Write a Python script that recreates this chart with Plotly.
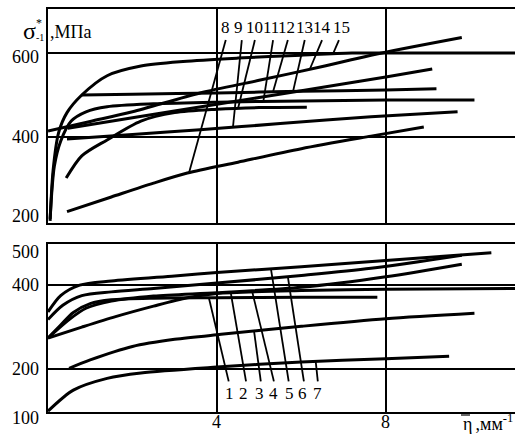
import numpy as np
import plotly.graph_objects as go

# ---- upper panel: curves 8..15 (eta in mm^-1, sigma in MPa) ----
eta_8 = [0.45, 1.5, 2.5, 3.3, 4.5, 6.0, 7.65, 8.9]
sig_8 = [222, 257, 290, 314, 340, 372, 402, 424]

eta_9 = [0.45, 2.0, 3.6, 5.5, 7.65, 9.7]
sig_9 = [395, 406, 417, 432, 448, 460]

eta_10 = [0.43, 0.8, 1.4, 2.2, 3.0, 4.0, 5.0, 6.13]
sig_10 = [302, 355, 393, 438, 458, 466, 470, 471]

eta_11 = [0.05, 0.15, 0.3, 0.55, 0.9, 1.4, 2.5, 4.0, 6.0, 8.0, 10.1]
sig_11 = [205, 330, 390, 438, 460, 472, 479, 483, 486, 488, 488]

eta_12 = [0.8, 2.0, 4.0, 6.0, 8.0, 9.2]
sig_12 = [500, 502, 505, 509, 512, 515]

eta_13 = [0.47, 2.0, 4.0, 6.0, 8.0, 9.1]
sig_13 = [421, 446, 478, 510, 543, 562]

eta_14 = [0.0, 1.0, 2.0, 3.6, 5.0, 6.5, 7.65, 9.8]
sig_14 = [414, 437, 460, 505, 535, 568, 595, 637]

eta_15 = [0.05, 0.12, 0.25, 0.45, 0.8, 1.4, 2.2, 3.2, 4.5, 6.0, 7.2, 8.5, 11.06]
sig_15 = [200, 320, 410, 458, 500, 546, 569, 580, 588, 595, 600, 600, 600]

# ---- lower panel: curves 1..7 ----
eta_1 = [0.0, 0.3, 0.6, 1.0, 1.5, 2.5, 4.0, 6.0, 7.8]
sig_1 = [274, 305, 335, 356, 365, 369, 370, 371, 371]

eta_2 = [0.0, 0.8, 1.6, 2.5, 3.3, 4.0, 6.0, 8.0, 11.06]
sig_2 = [274, 300, 325, 350, 370, 380, 387, 390, 392]

eta_3 = [0.5, 1.0, 2.0, 3.0, 4.1, 6.0, 8.0, 10.1]
sig_3 = [202, 222, 254, 271, 283, 302, 320, 333]

eta_4 = [0.0, 0.5, 0.9, 1.5, 2.5, 4.0, 6.0, 8.0, 9.8]
sig_4 = [274, 318, 345, 362, 374, 382, 395, 420, 450]

eta_5 = [0.0, 0.3, 0.75, 1.5, 3.0, 4.0, 6.0, 8.0, 10.5]
sig_5 = [336, 375, 400, 410, 422, 430, 444, 459, 477]

eta_6 = [0.0, 0.35, 0.8, 1.5, 2.5, 4.0, 6.0, 7.65, 9.8]
sig_6 = [318, 352, 375, 384, 392, 405, 423, 440, 471]

eta_7 = [0.0, 0.6, 1.4, 2.2, 4.0, 6.0, 8.0, 9.5]
sig_7 = [100, 150, 178, 191, 205, 217, 225, 231]

upper = {"8": (eta_8, sig_8), "9": (eta_9, sig_9), "10": (eta_10, sig_10),
         "11": (eta_11, sig_11), "12": (eta_12, sig_12), "13": (eta_13, sig_13),
         "14": (eta_14, sig_14), "15": (eta_15, sig_15)}
lower = {"1": (eta_1, sig_1), "2": (eta_2, sig_2), "3": (eta_3, sig_3),
         "4": (eta_4, sig_4), "5": (eta_5, sig_5), "6": (eta_6, sig_6),
         "7": (eta_7, sig_7)}

# curve numbers: (label x, leader top/bottom x, x where leader meets the curve)
upper_tags = {"8": (4.21, 4.21, 3.34), "9": (4.50, 4.59, 4.38), "10": (4.88, 4.90, 4.50),
              "11": (5.28, 5.33, 5.10), "12": (5.66, 5.68, 5.33), "13": (6.08, 6.08, 5.80),
              "14": (6.49, 6.49, 6.20), "15": (6.96, 6.89, 6.75)}
lower_tags = {"1": (4.29, 4.28, 3.81), "2": (4.62, 4.69, 4.33), "3": (5.02, 5.04, 4.88),
              "4": (5.33, 5.35, 4.83), "5": (5.73, 5.70, 5.28), "6": (6.03, 6.06, 5.68),
              "7": (6.39, 6.39, 6.34)}

W, H = 515, 443
L, R, T, B = 48, 0, 9, 31
PW, PH = W - L - R, H - T - B
X_MAX = 11.06
top_dom = [(H - B - 223) / PH, 1.0]
bot_dom = [0.0, (H - B - 244) / PH]
TOP_RANGE = [195, 705]
BOT_RANGE = [98, 498]

FONT = "Liberation Serif"
LW = 3.0

fig = go.Figure()
for name, (x, y) in upper.items():
    fig.add_trace(go.Scatter(x=x, y=y, mode="lines", xaxis="x2", yaxis="y2",
                             line=dict(color="black", width=LW, shape="spline", smoothing=0.8),
                             showlegend=False, hoverinfo="skip"))
for name, (x, y) in lower.items():
    fig.add_trace(go.Scatter(x=x, y=y, mode="lines", xaxis="x", yaxis="y",
                             line=dict(color="black", width=LW, shape="spline", smoothing=0.8),
                             showlegend=False, hoverinfo="skip"))

shapes = []
annotations = []

def px_x(p):
    return (p - L) / PW

def px_y(p):
    return (H - B - p) / PH

# leader lines and curve numbers, upper panel
for name, (lx, tx, cx) in upper_tags.items():
    ex, ey = upper[name]
    cy = float(np.interp(cx, ex, ey))
    shapes.append(dict(type="line", xref="x2", yref="y2", x0=tx, y0=631, x1=cx, y1=cy,
                       line=dict(color="black", width=1.8)))
    annotations.append(dict(text=name, xref="x2", yref="y2", x=lx, y=660, showarrow=False,
                            font=dict(family=FONT, size=17, color="black"),
                            xanchor="center", yanchor="middle"))

# leader lines and curve numbers, lower panel
for name, (lx, bx, cx) in lower_tags.items():
    ex, ey = lower[name]
    cy = float(np.interp(cx, ex, ey))
    shapes.append(dict(type="line", xref="x", yref="y", x0=bx, y0=171, x1=cx, y1=cy,
                       line=dict(color="black", width=1.8)))
    annotations.append(dict(text=name, xref="x", yref="y", x=lx, y=143, showarrow=False,
                            font=dict(family=FONT, size=17, color="black"),
                            xanchor="center", yanchor="middle"))

tick_font = dict(family=FONT, size=18, color="black")
# y tick labels (placed in paper space so the top one is not dropped)
for py, txt in [(57, "600"), (137, "400"), (216, "200"),
                (252, "500"), (285, "400"), (369, "200"), (418, "100")]:
    annotations.append(dict(text=txt, xref="paper", yref="paper", x=0, y=px_y(py), xshift=-7,
                            showarrow=False, xanchor="right", yanchor="middle", font=tick_font))
# x tick labels
for v in [4, 8]:
    annotations.append(dict(text=str(v), xref="x", yref="paper", x=v, y=px_y(422),
                            showarrow=False, xanchor="center", yanchor="middle", font=tick_font))

# axis titles
annotations.append(dict(text="σ", xref="paper", yref="paper", x=px_x(21), y=px_y(31),
                        showarrow=False, xanchor="left", yanchor="middle",
                        font=dict(family=FONT, size=24, color="black")))
annotations.append(dict(text="*", xref="paper", yref="paper", x=px_x(34), y=px_y(23),
                        showarrow=False, xanchor="left", yanchor="middle",
                        font=dict(family=FONT, size=12, color="black")))
annotations.append(dict(text="-1", xref="paper", yref="paper", x=px_x(34), y=px_y(37),
                        showarrow=False, xanchor="left", yanchor="middle",
                        font=dict(family=FONT, size=10, color="black")))
annotations.append(dict(text=",МПа", xref="paper", yref="paper", x=px_x(48), y=px_y(32),
                        showarrow=False, xanchor="left", yanchor="middle",
                        font=dict(family=FONT, size=18, color="black")))
annotations.append(dict(text="η", xref="paper", yref="paper", x=px_x(461), y=px_y(424),
                        showarrow=False, xanchor="left", yanchor="middle",
                        font=dict(family=FONT, size=18, color="black")))
shapes.append(dict(type="line", xref="paper", yref="paper", x0=px_x(461), x1=px_x(470),
                   y0=px_y(415), y1=px_y(415), line=dict(color="black", width=1.2)))
annotations.append(dict(text=" ,мм<sup>-1</sup>", xref="paper", yref="paper", x=px_x(469), y=px_y(423),
                        showarrow=False, xanchor="left", yanchor="middle",
                        font=dict(family=FONT, size=18, color="black")))

grid = dict(showgrid=True, gridcolor="black", gridwidth=1.5, zeroline=False,
            showticklabels=False, ticks="", showline=True, linecolor="black", linewidth=2)

fig.update_layout(
    width=W, height=H,
    margin=dict(l=L, r=R, t=T, b=B),
    paper_bgcolor="white", plot_bgcolor="white",
    xaxis=dict(domain=[0, 1], range=[0, X_MAX], tickvals=[4, 8], anchor="y", mirror=True, **grid),
    xaxis2=dict(domain=[0, 1], range=[0, X_MAX], tickvals=[4, 8], anchor="y2", mirror=True, **grid),
    yaxis=dict(domain=bot_dom, range=BOT_RANGE, tickvals=[200, 400], anchor="x", **grid),
    yaxis2=dict(domain=top_dom, range=TOP_RANGE, tickvals=[400, 600], anchor="x2", **grid),
    shapes=shapes, annotations=annotations,
)

fig.write_html("out.html")
